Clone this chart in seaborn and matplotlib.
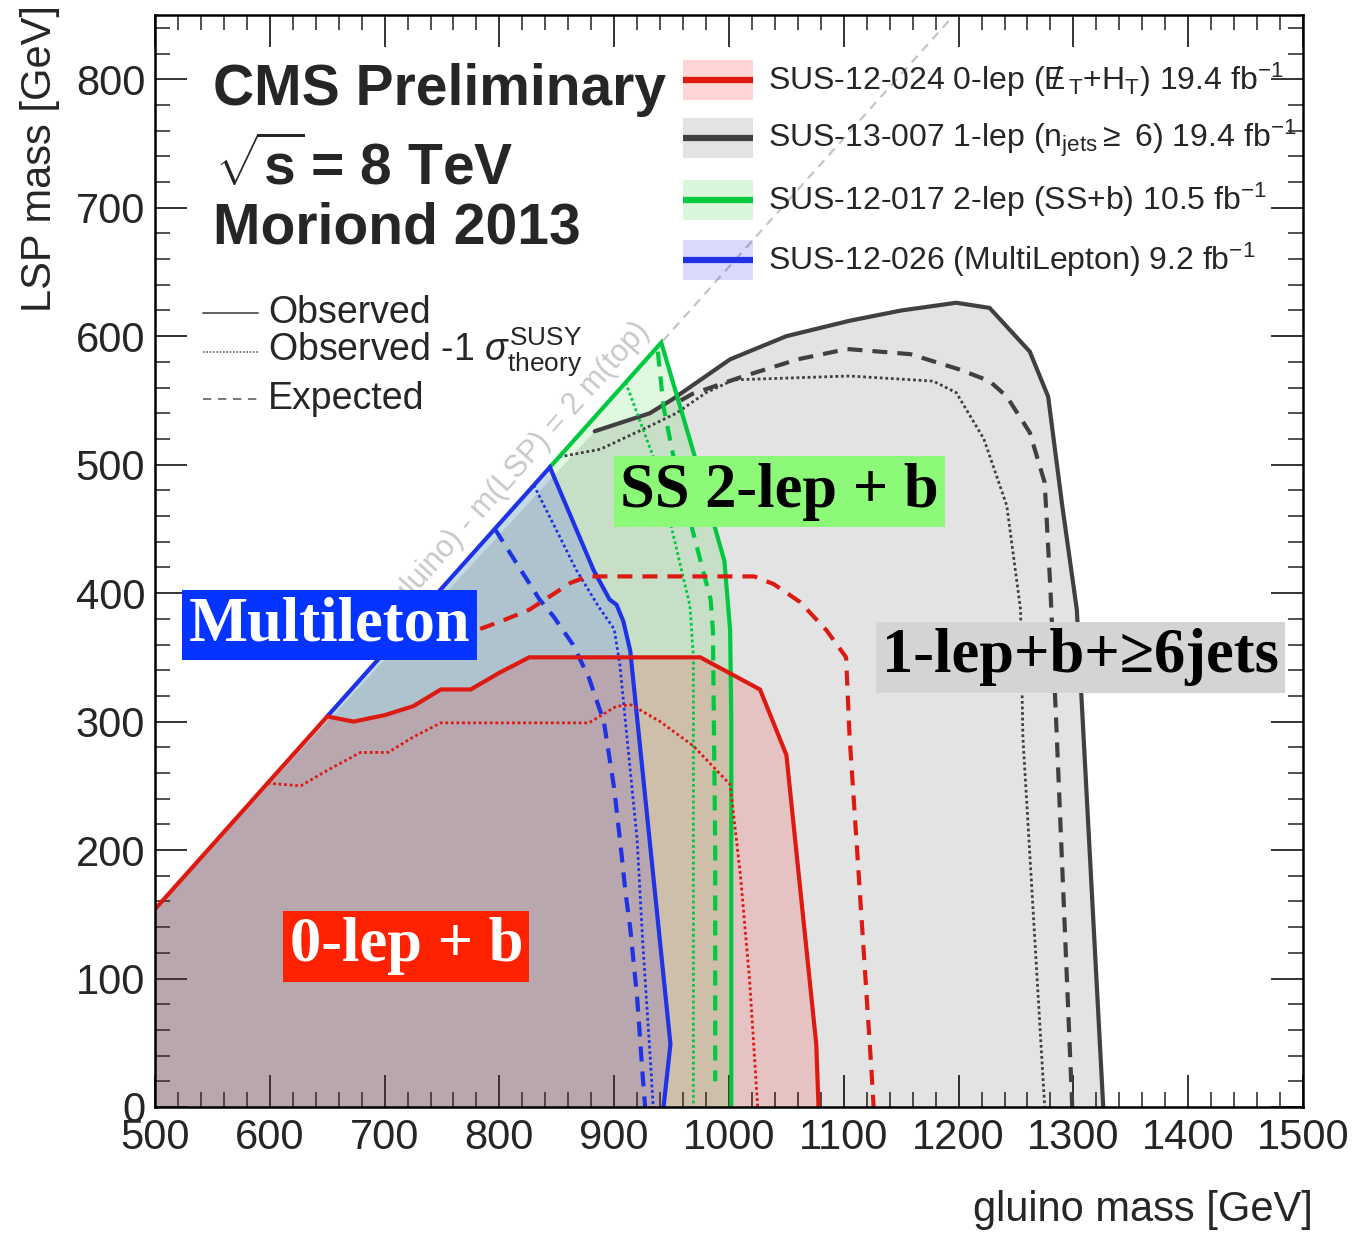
import numpy as np
import matplotlib
matplotlib.use("Agg")
import matplotlib.pyplot as plt
import seaborn as sns
from matplotlib.patches import Rectangle
from matplotlib.lines import Line2D
from matplotlib.ticker import MultipleLocator

# ---------------------------------------------------------------- data
M_TOP = 173.0  # kinematic limit: m(gluino) - m(LSP) = 2 m(top)

# SUS-12-024, 0-lepton (MET + HT)
red_obs_x = [500, 650, 673, 700, 725, 749, 775, 800, 826, 975, 1027, 1050, 1076, 1078]
red_obs_y = [154, 304, 300, 305, 312, 325, 325, 338, 350, 350, 325, 274, 49, 0]
red_m1s_x = [598, 627, 650, 679, 703, 725, 749, 878, 902, 915, 940, 969, 1001, 1010, 1018, 1025]
red_m1s_y = [252, 250, 262, 276, 276, 288, 299, 299, 312, 313, 300, 281, 251, 180, 98, 0]
red_exp_x = [718, 783, 804, 826, 862, 877, 1022, 1039, 1062, 1085, 1102, 1105, 1111, 1117, 1124, 1126]
red_exp_y = [372, 372, 379, 387, 408, 413, 413, 407, 393, 371, 350, 289, 208, 126, 30, 0]

# SUS-13-007, 1-lepton, n_jets >= 6
blk_obs_x = [883, 931, 951, 1001, 1050, 1105, 1150, 1198, 1227, 1262, 1278, 1290, 1303, 1326]
blk_obs_y = [526, 540, 551, 582, 600, 612, 620, 626, 622, 588, 553, 470, 387, 0]
blk_m1s_x = [852, 888, 931, 954, 980, 1004, 1105, 1178, 1198, 1222, 1242, 1254, 1256, 1275]
blk_m1s_y = [506, 512, 530, 540, 556, 566, 569, 565, 556, 520, 468, 387, 288, 0]
blk_exp_x = [958, 968, 1010, 1060, 1103, 1158, 1201, 1227, 1242, 1262, 1275, 1280, 1285, 1299]
blk_exp_y = [550, 555, 568, 582, 590, 586, 574, 565, 553, 525, 486, 403, 300, 0]

# SUS-12-017, same-sign 2-lepton + b
grn_obs_x = [844, 941, 969, 996, 1001, 1002, 1002]
grn_obs_y = [498, 595, 510, 425, 371, 300, 0]
grn_m1s_x = [910, 922, 937, 951, 966, 969, 969]
grn_m1s_y = [564, 535, 499, 447, 390, 350, 0]
grn_exp_x = [938, 943, 951, 972, 984, 986, 988, 988]
grn_exp_y = [588, 545, 509, 436, 395, 371, 200, 20]

# SUS-12-026, multilepton
blu_obs_x = [650, 844, 882, 896, 902, 908, 914, 949, 943]
blu_obs_y = [304, 498, 418, 395, 391, 378, 355, 49, 0]
blu_m1s_x = [830, 848, 867, 886, 900, 905, 911, 920, 925, 931, 934]
blu_m1s_y = [484, 452, 418, 390, 372, 344, 289, 208, 126, 44, 0]
blu_exp_x = [796, 813, 835, 847, 864, 878, 891, 900, 906, 910, 914, 920, 925, 927]
blu_exp_y = [450, 426, 395, 382, 360, 334, 300, 248, 200, 166, 139, 85, 22, 0]

x_ticks = [500, 600, 700, 800, 900, 1000, 1100, 1200, 1300, 1400, 1500]
y_ticks = [0, 100, 200, 300, 400, 500, 600, 700, 800]

legend_entries = [
    r"SUS-12-024 0-lep ($\mathrm{E}\!\!\!/\;$$_{\mathrm{T}}$+H$_{\mathrm{T}}$) 19.4 fb$^{-1}$",
    r"SUS-13-007 1-lep (n$_{\mathrm{jets}}$$\geq$ 6) 19.4 fb$^{-1}$",
    r"SUS-12-017 2-lep (SS+b) 10.5 fb$^{-1}$",
    r"SUS-12-026 (MultiLepton) 9.2 fb$^{-1}$",
]

# ---------------------------------------------------------------- style
sns.set_style("ticks")
plt.rcParams["font.family"] = ["Liberation Sans", "DejaVu Sans"]
plt.rcParams["mathtext.fontset"] = "custom"
plt.rcParams["mathtext.rm"] = "Liberation Sans"
plt.rcParams["mathtext.it"] = "Liberation Sans:italic"
plt.rcParams["mathtext.bf"] = "Liberation Sans:bold"

RED, BLK, GRN, BLU = "#dc1a12", "#404040", "#00c840", "#1e32e6"
FILLS = {RED: ((1.0, 0.0, 0.0), 0.14), BLK: ((0.0, 0.0, 0.0), 0.11),
         GRN: ((0.0, 0.78, 0.0), 0.12), BLU: ((0.0, 0.0, 1.0), 0.12)}

fig = plt.figure(figsize=(13.59, 12.41), dpi=100)
ax = fig.add_axes([0.11405, 0.10798, 0.84474, 0.87994])
ax.set_xlim(500, 1500)
ax.set_ylim(0, 850)

# kinematic boundary
diag_x = np.array([500.0, 1500.0])
sns.lineplot(x=diag_x, y=diag_x - 2 * M_TOP, sort=False, estimator=None, ax=ax,
             color="#c4c4c4", lw=1.6, linestyle=(0, (4, 3)), zorder=0.5)
ax.text(808, 490, "m(gluino) - m(LSP) = 2 m(top)", rotation=45,
        transform_rotates_text=True, rotation_mode="anchor", ha="center", va="center",
        fontsize=22, color="#c8c8c8", zorder=0.6)


def fill_region(xs, ys, color, z):
    rgb, alpha = FILLS[color]
    px = [500, 500] + list(xs) + [xs[-1]]
    py = [0, 500 - 2 * M_TOP] + list(ys) + [0]
    ax.fill(px, py, color=rgb, alpha=alpha, lw=0, zorder=z)


fill_region(blk_obs_x, blk_obs_y, BLK, 1)
fill_region(grn_obs_x, grn_obs_y, GRN, 2)
fill_region(blu_obs_x, blu_obs_y, BLU, 3)
fill_region(red_obs_x, red_obs_y, RED, 4)


def curve(xs, ys, color, kind, z):
    if kind == "obs":
        kw = dict(lw=3.0, linestyle="-")
    elif kind == "exp":
        kw = dict(lw=3.0, linestyle=(0, (3.6, 2.4)))
    else:
        kw = dict(lw=2.0, linestyle=(0, (1.0, 1.0)))
    sns.lineplot(x=xs, y=ys, sort=False, estimator=None, errorbar=None, ax=ax,
                 color=color, zorder=z, solid_joinstyle="miter", **kw)


groups = [
    (BLK, (blk_m1s_x, blk_m1s_y), (blk_exp_x, blk_exp_y), (blk_obs_x, blk_obs_y), 5),
    (GRN, (grn_m1s_x, grn_m1s_y), (grn_exp_x, grn_exp_y), (grn_obs_x, grn_obs_y), 6),
    (BLU, (blu_m1s_x, blu_m1s_y), (blu_exp_x, blu_exp_y), (blu_obs_x, blu_obs_y), 7),
    (RED, (red_m1s_x, red_m1s_y), (red_exp_x, red_exp_y), (red_obs_x, red_obs_y), 8),
]
for col, m1s, exp, obs, z in groups:
    curve(*m1s, col, "m1s", z)
    curve(*exp, col, "exp", z + 0.1)
    curve(*obs, col, "obs", z + 0.2)

# ---------------------------------------------------------------- axes
ax.set_xticks(x_ticks)
ax.set_yticks(y_ticks)
ax.xaxis.set_minor_locator(MultipleLocator(20))
ax.yaxis.set_minor_locator(MultipleLocator(20))
ax.tick_params(which="major", direction="in", top=True, right=True, length=23,
               width=1.4, color="#333333", labelsize=30)
ax.tick_params(which="minor", direction="in", top=True, right=True, length=11,
               width=1.2, color="#333333")
ax.tick_params(axis="y", pad=7)
ax.tick_params(axis="x", pad=8)
for sp in ax.spines.values():
    sp.set_linewidth(1.8)
    sp.set_color("black")
    sp.set_zorder(20)

ax.text(-0.1002, 1.009, "LSP mass [GeV]", transform=ax.transAxes, rotation=90,
        ha="center", va="top", fontsize=30)
ax.text(1.0087, -0.0943, "gluino mass [GeV]", transform=ax.transAxes,
        ha="right", va="center", fontsize=30)

# ---------------------------------------------------------------- header
ax.text(0.0505, 0.9176, "CMS Preliminary", transform=ax.transAxes, fontsize=41,
        fontweight="bold", va="baseline", zorder=12)
ax.text(0.0523, 0.8443, r"$\sqrt{\mathbf{s}}\,$= 8 TeV", transform=ax.transAxes, fontsize=41,
        fontweight="bold", va="baseline", zorder=12)
ax.text(0.0505, 0.7912, "Moriond 2013", transform=ax.transAxes, fontsize=41,
        fontweight="bold", va="baseline", zorder=12)

# line-style key
style_rows = [("Observed", "-", 0.7271),
              (r"Observed -1 $\sigma^{\mathrm{SUSY}}_{\mathrm{theory}}$", (0, (1, 1)), 0.6914),
              ("Expected", (0, (5, 4)), 0.6484)]
for label, ls, yy in style_rows:
    ax.add_line(Line2D([0.0418, 0.0897], [yy, yy], transform=ax.transAxes,
                       color="#606060", lw=1.4 if ls == "-" else 1.2, linestyle=ls, zorder=12))
    ax.text(0.0984, yy, label, transform=ax.transAxes, fontsize=27, va="center", zorder=12)

# analysis key
key_y = [0.9405, 0.8870, 0.8306, 0.7756]
for col, text, yy in zip([RED, BLK, GRN, BLU], legend_entries, key_y):
    rgb, alpha = FILLS[col]
    a = alpha * 1.2 if col != BLK else alpha
    ax.add_patch(Rectangle((0.4599, yy - 0.0183), 0.0610, 0.0366, transform=ax.transAxes,
                           facecolor=rgb, alpha=a, lw=0, zorder=12))
    ax.add_line(Line2D([0.4599, 0.5209], [yy, yy], transform=ax.transAxes,
                       color=col, lw=4.5, solid_capstyle="butt", zorder=13))
    ax.text(0.534, yy, text, transform=ax.transAxes, fontsize=23, va="center", zorder=13)

# region labels
serif = ["Liberation Serif", "DejaVu Serif"]
box_labels = [
    ("SS 2-lep + b", 1044, 479, "black", "#8cfa78"),
    ("Multileton", 652, 375, "white", "#0533ff"),
    ("1-lep+b+\u22656jets", 1306, 350, "black", "#d4d4d4"),
    ("0-lep + b", 719, 125, "white", "#ff2200"),
]
for txt, xx, yy, fc, bc in box_labels:
    ax.text(xx, yy, txt, family=serif, fontweight="bold", fontsize=45, color=fc,
            ha="center", va="center", zorder=15, clip_on=False,
            bbox=dict(boxstyle="square,pad=0.1", facecolor=bc, edgecolor="none"))

fig.savefig("out.png", dpi=100)
